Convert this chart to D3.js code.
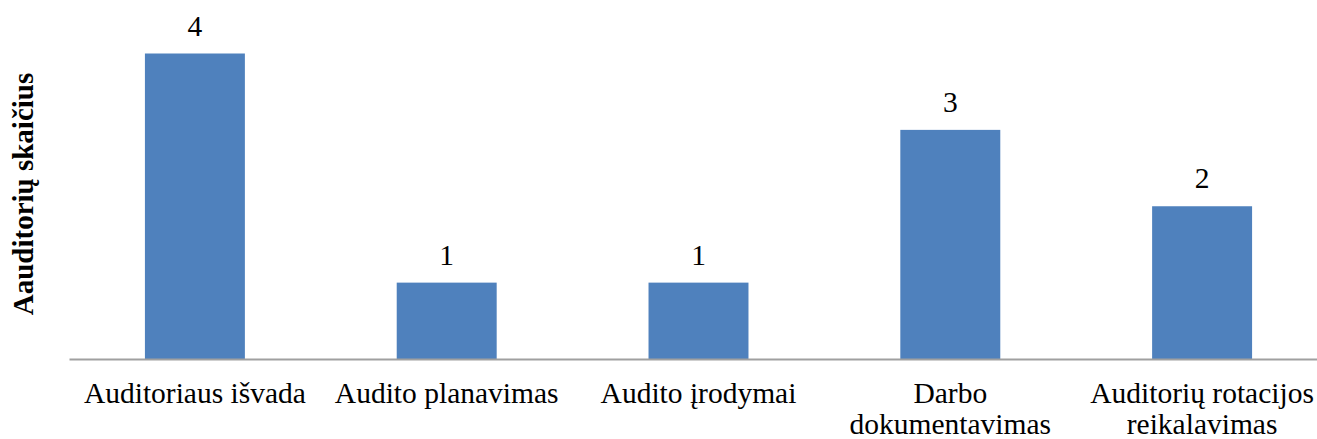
<!DOCTYPE html>
<html>
<head>
<meta charset="utf-8">
<script src="https://cdn.jsdelivr.net/npm/d3@7"></script>
<style>
  html, body { margin: 0; padding: 0; background: #fff; }
  svg { display: block; }
  text { font-family: "Times New Roman", "Liberation Serif", serif; fill: #000; }
</style>
</head>
<body>
<svg id="chart" width="1317" height="439"></svg>
<script>
// Categories (multi-line labels split on "\n") and counts
const categories = [
  "Auditoriaus išvada",
  "Audito planavimas",
  "Audito įrodymai",
  "Darbo\ndokumentavimas",
  "Auditorių rotacijos\nreikalavimas"
];
const values = [4, 1, 1, 3, 2];
const yTitle = "Aauditorių skaičius";

const svg = d3.select("#chart");
const baseY = 359;

const x = d3.scaleBand()
  .domain(categories)
  .range([69, 1328])
  .paddingInner(0.603)
  .paddingOuter(0.3015);

const y = d3.scaleLinear()
  .domain([0, 4])
  .range([baseY, 53.5]);

// Bars
svg.append("g")
  .selectAll("rect")
  .data(values)
  .join("rect")
  .attr("x", (d, i) => x(categories[i]))
  .attr("y", d => y(d))
  .attr("width", x.bandwidth())
  .attr("height", d => y(0) - y(d))
  .attr("fill", "#4f81bd");

// Value labels
svg.append("g")
  .selectAll("text")
  .data(values)
  .join("text")
  .attr("x", (d, i) => x(categories[i]) + x.bandwidth() / 2)
  .attr("y", d => y(d) - 18)
  .attr("text-anchor", "middle")
  .style("font-size", "29.5px")
  .text(d => d);

// Category axis
const xAxis = svg.append("g")
  .attr("transform", `translate(0,${baseY})`)
  .call(d3.axisBottom(x).tickSize(0).tickFormat(""));
xAxis.select(".domain").attr("stroke", "#a0a0a0").attr("stroke-width", 2);

const catLabels = svg.append("g")
  .selectAll("text")
  .data(categories)
  .join("text")
  .attr("text-anchor", "middle")
  .attr("x", d => x(d) + x.bandwidth() / 2)
  .attr("y", 403)
  .style("font-size", "29.5px");
catLabels.each(function(d) {
  const t = d3.select(this);
  d.split("\n").forEach((line, k) => {
    t.append("tspan")
      .attr("x", x(d) + x.bandwidth() / 2)
      .attr("dy", k === 0 ? 0 : 31)
      .text(line);
  });
});

// Y axis title
svg.append("text")
  .attr("transform", `translate(33,194) rotate(-90)`)
  .attr("text-anchor", "middle")
  .style("font-size", "29px")
  .style("font-weight", "bold")
  .text(yTitle);
</script>
</body>
</html>
